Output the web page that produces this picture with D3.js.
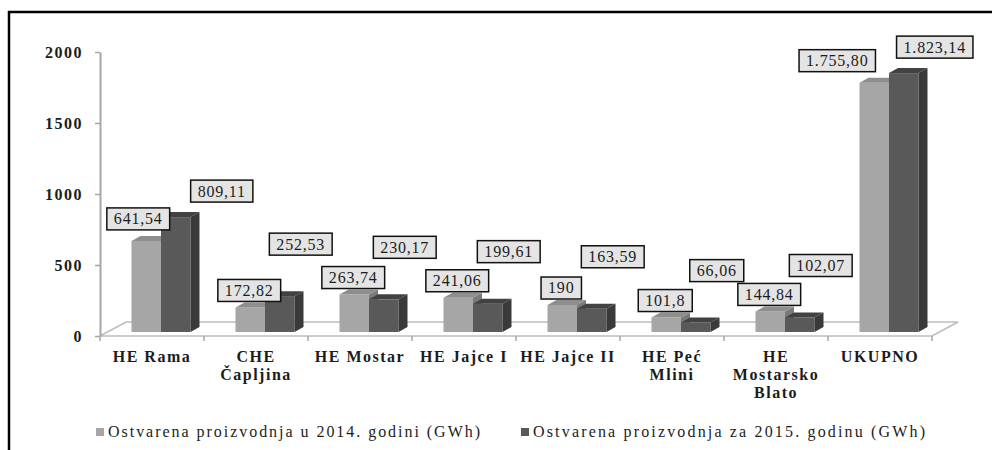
<!DOCTYPE html>
<html>
<head>
<meta charset="utf-8">
<script src="https://cdn.jsdelivr.net/npm/d3@7"></script>
<style>
  body { margin: 0; background: #fff; }
  text { font-family: "Liberation Serif", "Times New Roman", serif; fill: #1c1c1c; }
</style>
</head>
<body>
<svg id="chart" width="992" height="450"></svg>
<script>
// data
var categories = [["HE Rama"], ["CHE", "Čapljina"], ["HE Mostar"], ["HE Jajce I"],
                  ["HE Jajce II"], ["HE Peć", "Mlini"], ["HE", "Mostarsko", "Blato"], ["UKUPNO"]];
var prod2014 = [641.54, 172.82, 263.74, 241.06, 190, 101.8, 144.84, 1755.80];
var prod2015 = [809.11, 252.53, 230.17, 199.61, 163.59, 66.06, 102.07, 1823.14];
var yTicks = [0, 500, 1000, 1500, 2000];
var seriesNames = ["Ostvarena proizvodnja u 2014. godini (GWh)",
                   "Ostvarena proizvodnja za 2015. godinu (GWh)"];

var colors = [
  {front: "#a6a6a6", top: "#8e8e8e", side: "#7a7a7a"},
  {front: "#595959", top: "#424242", side: "#3a3a3a"}
];

var svg = d3.select("#chart");

// frame (only top and left visible)
svg.append("path")
  .attr("d", "M9,450V12H992")
  .attr("fill", "none")
  .attr("stroke", "#000")
  .attr("stroke-width", 2.5);

var x = d3.scaleBand().domain(d3.range(categories.length)).range([100, 932]);
var xs = d3.scaleBand().domain([0, 1]).range([31.5, 90.5]);
var y = d3.scaleLinear().domain([0, 2000]).range([336, 52]);

var floorD = {dx: 26, dy: -14};   // depth of the floor
var barOff = {dx: 0, dy: -4};     // bars sit a bit back on the floor
var barD = {dx: 9, dy: -5};       // depth of each bar

// floor
var x0 = x.range()[0], x1 = x.range()[1], y0 = y(0);
svg.append("path")
  .attr("d", "M" + x0 + "," + y0 + "L" + x1 + "," + y0 +
             "L" + (x1 + floorD.dx) + "," + (y0 + floorD.dy) +
             "L" + (x0 + floorD.dx) + "," + (y0 + floorD.dy) + "Z")
  .attr("fill", "#fff")
  .attr("stroke", "#bdbdbd")
  .attr("stroke-width", 1.5);

// category ticks at band edges
var edges = x.domain().map(function(d){ return x(d); }).concat([x1]);
svg.selectAll(".ctick").data(edges).enter().append("line")
  .attr("x1", function(d){ return d; }).attr("x2", function(d){ return d; })
  .attr("y1", y0).attr("y2", y0 + 5)
  .attr("stroke", "#a6a6a6").attr("stroke-width", 1.5);

// y axis
var yAxis = svg.append("g")
  .attr("transform", "translate(" + x0 + ",0)")
  .call(d3.axisLeft(y).tickValues(yTicks).tickFormat(d3.format("d"))
    .tickSize(5).tickSizeOuter(0).tickPadding(12));
yAxis.select(".domain").attr("stroke", "#a6a6a6").attr("stroke-width", 2);
yAxis.selectAll(".tick line").attr("stroke", "#a6a6a6").attr("stroke-width", 1.5);
yAxis.selectAll(".tick text")
  .attr("font-size", 16)
  .attr("font-weight", "bold")
  .attr("letter-spacing", 1.5)
  .attr("fill", "#1c1c1c");

// bars
var series = [prod2014, prod2015];
var groups = svg.selectAll(".grp").data(categories).enter().append("g");

function box(g, bx, top, w, bottom, c) {
  // front
  g.append("rect")
    .attr("x", bx).attr("y", top).attr("width", w).attr("height", bottom - top)
    .attr("fill", c.front);
  // top
  g.append("path")
    .attr("d", "M" + bx + "," + top + "L" + (bx + barD.dx) + "," + (top + barD.dy) +
               "L" + (bx + w + barD.dx) + "," + (top + barD.dy) + "L" + (bx + w) + "," + top + "Z")
    .attr("fill", c.top);
  // side
  g.append("path")
    .attr("d", "M" + (bx + w) + "," + top + "L" + (bx + w + barD.dx) + "," + (top + barD.dy) +
               "L" + (bx + w + barD.dx) + "," + (bottom + barD.dy) + "L" + (bx + w) + "," + bottom + "Z")
    .attr("fill", c.side);
}

groups.each(function(d, i) {
  var g = d3.select(this);
  series.forEach(function(s, k) {
    var bx = x(i) + xs(k) + barOff.dx;
    var top = y(s[i]) + barOff.dy;
    box(g, bx, top, xs.bandwidth(), y0 + barOff.dy, colors[k]);
  });
});

// category labels
groups.each(function(d, i) {
  var t = d3.select(this).append("text")
    .attr("x", x(i) + x.bandwidth() / 2)
    .attr("y", 362)
    .attr("text-anchor", "middle")
    .attr("font-size", 16)
    .attr("font-weight", "bold")
    .attr("letter-spacing", 1.5);
  d.forEach(function(line, j) {
    t.append("tspan").attr("x", x(i) + x.bandwidth() / 2).attr("dy", j ? 18 : 0).text(line);
  });
});

// data labels
var hr = d3.formatLocale({decimal: ",", thousands: ".", grouping: [3]}).format(",.2f");
function fmt(v) { return v >= 1000 ? hr(v) : String(v).replace(".", ","); }

series.forEach(function(s, k) {
  s.forEach(function(v, i) {
    var cx = x(i) + xs(k) + xs.bandwidth() / 2;
    var top = y(v) + barOff.dy;
    var dx, dy;
    if (k === 0) {
      dx = v > 1000 ? -37 : v > 500 ? -8 : -1;
      dy = v > 500 ? -22 : -17;
    } else {
      dx = v > 1000 ? 31 : v > 500 ? 46 : 21;
      dy = v > 500 ? -26 : -52;
    }
    var g = svg.append("g");
    var rect = g.append("rect");
    var t = g.append("text")
      .attr("x", cx + dx).attr("y", top + dy)
      .attr("dy", "0.34em")
      .attr("text-anchor", "middle")
      .attr("font-size", 16)
      .attr("letter-spacing", 0.8)
      .text(fmt(v));
    var w = t.node().getComputedTextLength() + 14;
    rect.attr("x", cx + dx - w / 2).attr("y", top + dy - 11)
      .attr("width", w).attr("height", 22)
      .attr("fill", "#e4e4e4").attr("stroke", "#111").attr("stroke-width", 1.5);
  });
});

// legend
var legend = svg.append("g").attr("transform", "translate(0,432)");
var legX = [96, 521];
var legW = [372, 392];
seriesNames.forEach(function(name, k) {
  legend.append("rect")
    .attr("x", legX[k]).attr("y", -4).attr("width", 8).attr("height", 8)
    .attr("fill", colors[k].front);
  legend.append("text")
    .attr("x", legX[k] + 12).attr("y", 0).attr("dy", "0.34em")
    .attr("font-size", 16)
    .attr("textLength", legW[k]).attr("lengthAdjust", "spacing")
    .text(name);
});
</script>
</body>
</html>
